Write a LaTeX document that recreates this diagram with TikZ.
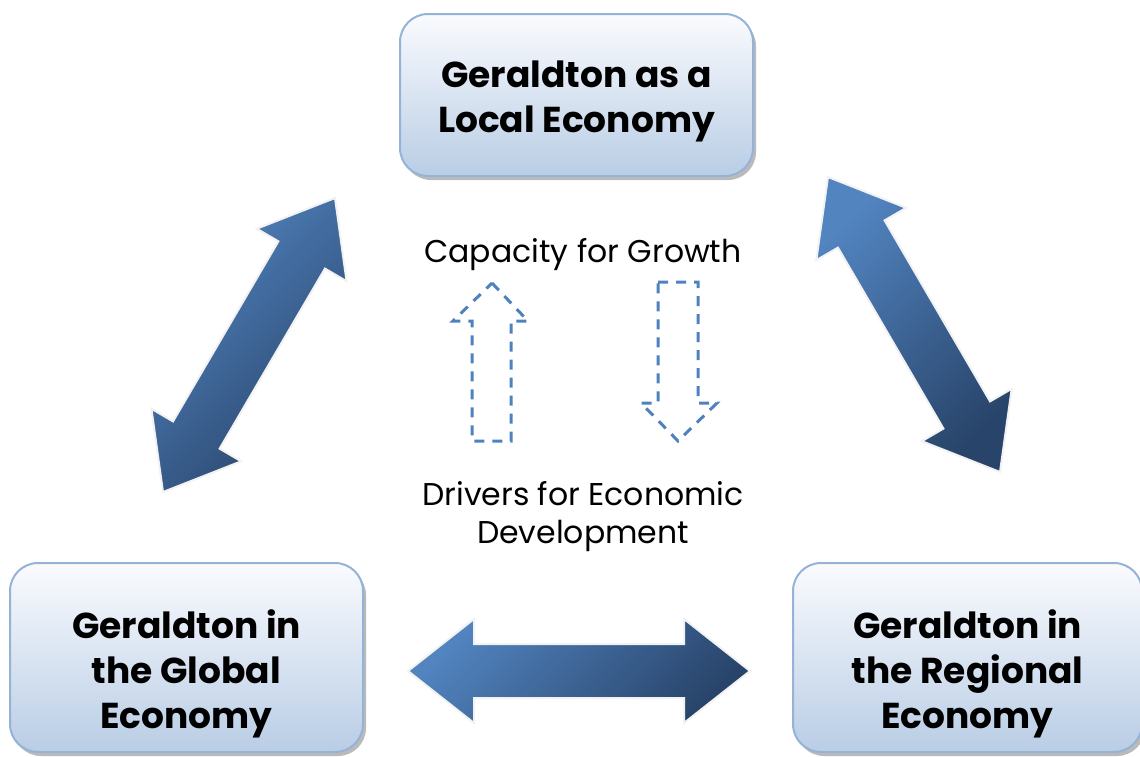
\documentclass[tikz,border=0pt]{standalone}
\usepackage{fontspec}
\setmainfont{Poppins}
\usepackage{tikz}
\usetikzlibrary{calc}
\usetikzlibrary{shadows}

\definecolor{boxline}{RGB}{149,179,215}
\definecolor{boxtop}{RGB}{250,251,254}
\definecolor{boxbot}{RGB}{185,205,229}
\definecolor{arrlight}{RGB}{82,132,192}
\definecolor{arrdark}{RGB}{40,68,106}
\definecolor{dashblue}{RGB}{79,129,189}

% double headed block arrow between two tips
\newcommand{\linkarrow}[2]{%
  \draw[bigarrow] (#1) -- ($(#1)!66pt!(#2)!52pt!90:(#2)$) -- ($(#1)!66pt!(#2)!27pt!90:(#2)$)
    -- ($(#2)!66pt!(#1)!27pt!-90:(#1)$) -- ($(#2)!66pt!(#1)!52pt!-90:(#1)$) -- (#2)
    -- ($(#2)!66pt!(#1)!52pt!90:(#1)$) -- ($(#2)!66pt!(#1)!27pt!90:(#1)$)
    -- ($(#1)!66pt!(#2)!27pt!-90:(#2)$) -- ($(#1)!66pt!(#2)!52pt!-90:(#2)$) -- cycle;}

\tikzset{
  econbox/.style={draw=boxline, line width=2pt, rounded corners=28pt, inner sep=0pt,
    top color=boxtop, bottom color=boxbot,
    drop shadow={shadow xshift=3pt, shadow yshift=-4pt, fill=black!45, opacity=0.6}},
  boxtext/.style={align=center, font=\fontsize{36}{45}\selectfont\bfseries},
  bigarrow/.style={draw=black!5, line width=2pt, top color=arrlight, bottom color=arrdark, shading angle=45},
  flowarrow/.style={draw=dashblue, line width=3pt, dash pattern=on 10pt off 8pt},
  caption/.style={align=center, font=\fontsize{31.5}{38}\selectfont}
}

\begin{document}
\begin{tikzpicture}[x=1pt,y=-1pt]
    \useasboundingbox (0,0) rectangle (1140,756);
    \node[econbox, minimum width=353pt, minimum height=162pt] (local) at (576.5,95) {};
    \node[econbox, minimum width=353pt, minimum height=189pt] (global) at (186.5,657.5) {};
    \node[econbox, minimum width=349pt, minimum height=189pt] (regional) at (967.5,657.5) {};
    \node[boxtext] (localtext) at ([yshift=-6pt]local.center) {Geraldton as a\\Local Economy};
    \node[boxtext] (globaltext) at ([yshift=-16pt]global.center) {Geraldton in\\the Global\\Economy};
    \node[boxtext] (regionaltext) at ([yshift=-16pt]regional.center) {Geraldton in\\the Regional\\Economy};
    \node[caption] (capacity) at (583,255) {Capacity for Growth};
    \node[caption] (drivers) at (583,517) {Drivers for Economic\\Development};
    \coordinate (gl) at (163,492);
    \coordinate (lg) at (335,198);
    \coordinate (lr) at (828,177);
    \coordinate (rl) at (1000,472);
    \coordinate (gr) at (408,671);
    \coordinate (rg) at (750,671);
    \linkarrow{gl}{lg}
    \linkarrow{lr}{rl}
    \linkarrow{gr}{rg}
    \draw[flowarrow] (492,283)--(528,321)--(511,321)--(511,441)--(472,441)--(472,321)--(453,321)--cycle;
    \draw[flowarrow] (658,282)--(698,282)--(698,403)--(717,403)--(678,441)--(641,403)--(658,403)--cycle;
\end{tikzpicture}
\end{document}
